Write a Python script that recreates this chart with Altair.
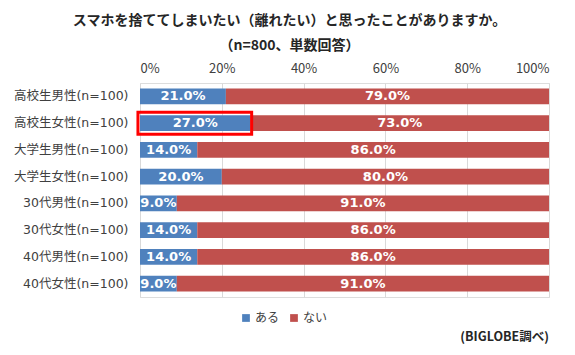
import altair as alt
import pandas as pd

categories = ["高校生男性(n=100)", "高校生女性(n=100)", "大学生男性(n=100)", "大学生女性(n=100)",
              "30代男性(n=100)", "30代女性(n=100)", "40代男性(n=100)", "40代女性(n=100)"]
aru = [21.0, 27.0, 14.0, 20.0, 9.0, 14.0, 14.0, 9.0]
nai = [79.0, 73.0, 86.0, 80.0, 91.0, 86.0, 86.0, 91.0]
series = ["ある", "ない"]
colors = ["#4F81BD", "#C0504D"]
title_lines = ["スマホを捨ててしまいたい（離れたい）と思ったことがありますか。", "（n=800、単数回答）"]
source = "(BIGLOBE調べ)"
highlight = "高校生女性(n=100)"

rows = []
for c, a, n in zip(categories, aru, nai):
    rows.append({"cat": c, "series": "ある", "v": a, "start": 0.0, "end": a, "mid": a / 2, "order": 0})
    rows.append({"cat": c, "series": "ない", "v": n, "start": a, "end": a + n, "mid": a + n / 2, "order": 1})
df = pd.DataFrame(rows)
df["label"] = df["v"].map(lambda v: f"{v:.1f}%")

lab_font = "DejaVu Sans, Noto Sans CJK JP"

yenc = alt.Y("cat:N", sort=categories, title=None,
             scale=alt.Scale(paddingInner=0.42, paddingOuter=0.21),
             axis=alt.Axis(labelFontSize=12.5, labelColor="#404040", labelFont=lab_font,
                           domain=False, ticks=False, labelPadding=12))
xscale = alt.Scale(domain=[0, 100])

bars = alt.Chart(df).mark_bar().encode(
    x=alt.X("start:Q", scale=xscale, title=None,
            axis=alt.Axis(orient="top", values=[0, 20, 40, 60, 80, 100],
                          labelExpr="datum.value + '%'", labelFontSize=13, labelColor="#404040",
                          labelFont="Noto Sans CJK JP", domain=False, ticks=False, labelPadding=8,
                          grid=True, gridColor="#D9D9D9", gridWidth=1)),
    x2="end:Q",
    y=yenc,
    color=alt.Color("series:N", scale=alt.Scale(domain=series, range=colors), sort=series,
                    legend=alt.Legend(title=None, orient="none", legendX=100, legendY=229,
                                      direction="horizontal", symbolType="square", symbolSize=60,
                                      symbolStrokeWidth=0, labelFontSize=12, labelFont="Noto Sans CJK JP",
                                      labelColor="#404040", columnPadding=8, labelOffset=3)),
    order="order:Q",
)

labels = alt.Chart(df).mark_text(color="white", fontWeight="bold", fontSize=13, font="DejaVu Sans").encode(
    x=alt.X("mid:Q", scale=xscale),
    y=alt.Y("cat:N", sort=categories),
    text="label:N",
)

hl = pd.DataFrame({"cat": [highlight], "x0": [-0.5], "x1": [27.3]})
box = alt.Chart(hl).mark_bar(fill=None, stroke="#FF0000", strokeWidth=3, size=22, clip=False).encode(
    x=alt.X("x0:Q", scale=xscale), x2="x1:Q", y=alt.Y("cat:N", sort=categories)
)

src = alt.Chart(pd.DataFrame({"t": [source]})).mark_text(
    align="right", baseline="middle", fontSize=12.5, fontWeight="bold", font="Noto Sans CJK JP", color="#262626"
).encode(text="t:N", x=alt.value(409), y=alt.value(254))

chart = alt.layer(bars, labels, box, src).properties(
    width=409, height=214,
    title=alt.TitleParams(text=title_lines, fontSize=14, fontWeight="bold", font="Noto Sans CJK JP",
                          color="#262626", anchor="middle", dx=-55, lineHeight=25, offset=9),
    autosize=alt.AutoSizeParams(type="none"),
    padding={"left": 132, "top": 75, "right": 18, "bottom": 50},
).configure_view(stroke=None).configure(background="white")

chart.save("out.html", embed_options={"renderer": "svg", "actions": False})
